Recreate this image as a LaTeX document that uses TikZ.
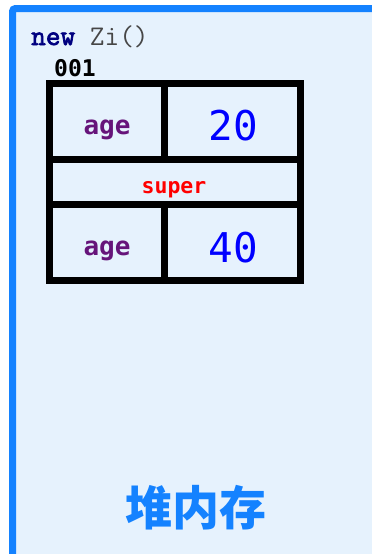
\documentclass[tikz,border=0pt]{standalone}
\usepackage{fontspec}
\usepackage{xcolor}
\newfontfamily\codefont{DejaVu Sans Mono}
\newfontfamily\kwfont{Latin Modern Mono}[FakeBold=2.5]
\newfontfamily\cjk{Noto Sans CJK SC}
\definecolor{heapblue}{RGB}{20,130,255}
\definecolor{heapfill}{RGB}{230,242,253}
\definecolor{fieldpurple}{RGB}{102,20,122}
\definecolor{kwnavy}{RGB}{0,0,128}
\definecolor{callgray}{RGB}{70,70,70}

\begin{document}
\begin{tikzpicture}[
    x=1pt,y=-1pt,
    heap/.style={draw=heapblue,fill=heapfill,line width=7pt,rounded corners=3pt},
    cell/.style={rectangle,draw=black,line width=7pt,inner sep=0pt,outer sep=0pt,anchor=north west},
    field/.style={anchor=base,inner sep=0pt,font=\codefont\bfseries\fontsize{26}{26}\selectfont,text=fieldpurple},
    value/.style={anchor=base,inner sep=0pt,font=\codefont\fontsize{41}{41}\selectfont,text=blue},
    parent/.style={anchor=base,inner sep=0pt,font=\codefont\bfseries\fontsize{21.5}{21.5}\selectfont,text=red}
  ]
    \useasboundingbox (0,0) rectangle (372,554);
    \fill[white] (0,0) rectangle (372,554);
    \draw[heap] (12.5,8.5) rectangle (377,559);

    \node[anchor=base west,inner sep=0pt] (ctor) at (31,45)
      {\fontsize{28.5}{28.5}\selectfont{\kwfont\color{kwnavy}new}\ttfamily\color{callgray}\ Zi()};
    \node[anchor=base west,inner sep=0pt,font=\codefont\bfseries\fontsize{23}{23}\selectfont] (addr) at (54,76) {001};

    % object layout
    \node[cell,minimum width=114.5pt,minimum height=76.2pt] (f1) at (49.5,83.5) {};
    \node[cell,minimum width=136pt,minimum height=76.2pt] (v1) at (164,83.5) {};
    \node[cell,minimum width=250.5pt,minimum height=44.3pt] (sup) at (49.5,159.7) {};
    \node[cell,minimum width=114.5pt,minimum height=76.5pt] (f2) at (49.5,204) {};
    \node[cell,minimum width=136pt,minimum height=76.5pt] (v2) at (164,204) {};

    \node[field] (f1txt) at (107,134) {age};
    \node[value] (v1txt) at (233,140.5) {20};
    \node[parent] (suptxt) at (174,193) {super};
    \node[field] (f2txt) at (107,255) {age};
    \node[value] (v2txt) at (233,262.5) {40};

    \node[font=\cjk\bfseries\fontsize{47}{47}\selectfont,text=heapblue] (title) at (196,508) {堆内存};
  \end{tikzpicture}
\end{document}
